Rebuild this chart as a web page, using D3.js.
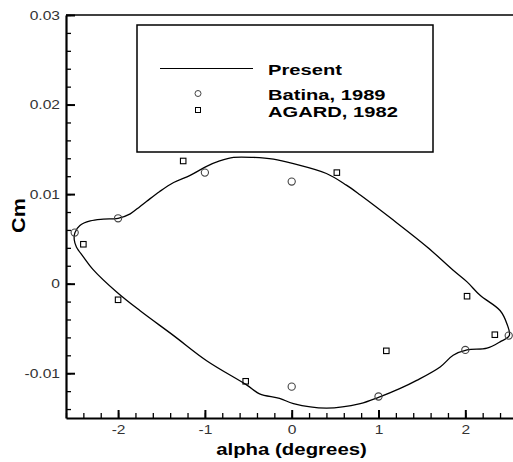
<!DOCTYPE html>
<html>
<head>
<meta charset="utf-8">
<script src="https://cdn.jsdelivr.net/npm/d3@7"></script>
<style>
  html, body { margin: 0; padding: 0; background: #fff; }
  svg { display: block; font-family: "Liberation Sans", Arial, sans-serif; }
</style>
</head>
<body>
<svg id="chart" width="513" height="462"></svg>
<script>
// ---- data ----
const xTicks = [-2, -1, 0, 1, 2];
const xTickLabels = ["-2", "-1", "0", "1", "2"];
const yTicks = [-0.01, 0, 0.01, 0.02, 0.03];
const yTickLabels = ["-0.01", "0", "0.01", "0.02", "0.03"];

// "Present" closed loop (alpha, Cm)
const presentAlpha = [-2.505, -2.497, -2.44, -2.32, -2.17, -2.0, -1.86, -1.75, -1.67, -1.52, -1.36, -1.17, -0.98, -0.83, -0.67, -0.44, -0.21, 0.02, 0.40, 0.63, 0.79, 1.17, 1.56, 1.86, 2.02, 2.17, 2.40, 2.48, 2.507,
                      2.40, 2.25, 2.02, 1.86, 1.71, 1.44, 1.25, 1.0, 0.79, 0.40, 0.02, -0.14, -0.37, -0.52, -0.98, -1.36, -1.75, -2.02, -2.29, -2.40, -2.48];
const presentCm = [0.0049, 0.0057, 0.0065, 0.0070, 0.0072, 0.0073, 0.0078, 0.0086, 0.0092, 0.0103, 0.0113, 0.0121, 0.0131, 0.0137, 0.0141, 0.0141, 0.0139, 0.0134, 0.0123, 0.0110, 0.0099, 0.0071, 0.0041, 0.0015, 0.0002, -0.0013, -0.0030, -0.0045, -0.0058,
                   -0.0065, -0.0072, -0.0074, -0.0080, -0.0093, -0.0108, -0.0117, -0.0127, -0.0134, -0.0139, -0.0134, -0.0128, -0.0123, -0.0113, -0.0086, -0.0058, -0.0030, -0.0009, 0.0016, 0.0030, 0.0041];

// Batina, 1989
const batinaAlpha = [-2.5, -2.0, -1.0, 0.0, 0.0, 1.0, 2.0, 2.5];
const batinaCm = [0.0057, 0.0073, 0.0124, 0.0114, -0.0115, -0.0126, -0.0074, -0.0058];

// AGARD, 1982
const agardAlpha = [-2.40, -1.25, 0.52, -2.0, -0.53, 1.09, 2.02, 2.34];
const agardCm = [0.0044, 0.0137, 0.0124, -0.0018, -0.0109, -0.0075, -0.0014, -0.0057];

const legendLabels = ["Present", "Batina, 1989", "AGARD, 1982"];

// ---- chart ----
const svg = d3.select("#chart");
const pLeft = 66, pRight = 517.4, pTop = 15, pBottom = 418;
const x = d3.scaleLinear().domain([-2.6, 2.6]).range([pLeft, pRight]);
const y = d3.scaleLinear().domain([-0.015, 0.03]).range([pBottom, pTop]);
const SX = 1.2; // horizontal glyph stretch

// frame top/right lines
svg.append("line").attr("x1", pLeft).attr("x2", pRight).attr("y1", pTop).attr("y2", pTop)
  .attr("stroke", "#000").attr("stroke-width", 1.5);
svg.append("line").attr("x1", pRight).attr("x2", pRight).attr("y1", pTop).attr("y2", pBottom)
  .attr("stroke", "#000").attr("stroke-width", 1.5);

// minor ticks
const xMinor = d3.range(-13, 14).map(i => i * 0.2);
const yMinor = d3.range(-7, 16).map(i => i * 0.002);
svg.append("g").attr("transform", `translate(0,${pBottom})`)
  .call(d3.axisBottom(x).tickValues(xMinor).tickSize(-5).tickFormat(""))
  .call(g => g.select(".domain").remove())
  .call(g => g.selectAll("line").attr("stroke", "#000").attr("stroke-width", 1.3));
svg.append("g").attr("transform", `translate(${pLeft},0)`)
  .call(d3.axisLeft(y).tickValues(yMinor).tickSize(-5).tickFormat(""))
  .call(g => g.select(".domain").remove())
  .call(g => g.selectAll("line").attr("stroke", "#000").attr("stroke-width", 1.3));

// major axes
const xAxis = svg.append("g").attr("transform", `translate(0,${pBottom})`)
  .call(d3.axisBottom(x).tickValues(xTicks).tickSize(-8).tickSizeOuter(0).tickPadding(7)
    .tickFormat((d, i) => xTickLabels[i]));
const yAxis = svg.append("g").attr("transform", `translate(${pLeft},0)`)
  .call(d3.axisLeft(y).tickValues(yTicks).tickSize(-9).tickSizeOuter(0).tickPadding(5)
    .tickFormat((d, i) => yTickLabels[i]));
[xAxis, yAxis].forEach(g => {
  g.select(".domain").attr("stroke", "#000").attr("stroke-width", 2.2);
  g.selectAll(".tick line").attr("stroke", "#000").attr("stroke-width", 2);
  g.selectAll(".tick text").attr("font-size", 13).attr("fill", "#333")
    .attr("font-family", "Liberation Sans, Arial, sans-serif")
    .attr("transform", `scale(${SX},1)`);
});

// axis titles
svg.append("text").attr("transform", `translate(291.5,455) scale(${SX},1)`)
  .attr("text-anchor", "middle").attr("font-size", 17).attr("font-weight", "bold")
  .text("alpha (degrees)");
svg.append("text").attr("transform", `translate(25,215.5) rotate(-90) scale(${SX},1)`)
  .attr("text-anchor", "middle").attr("font-size", 18).attr("font-weight", "bold")
  .text("Cm");

// present curve
const presentPts = presentAlpha.map((a, i) => [a, presentCm[i]]);
const line = d3.line().x(d => x(d[0])).y(d => y(d[1])).curve(d3.curveCatmullRomClosed.alpha(0.5));
svg.append("path").attr("d", line(presentPts)).attr("fill", "none")
  .attr("stroke", "#000").attr("stroke-width", 1.3);

// Batina circles
svg.append("g").selectAll("circle").data(batinaAlpha.map((a, i) => [a, batinaCm[i]])).join("circle")
  .attr("cx", d => x(d[0])).attr("cy", d => y(d[1])).attr("r", 3.6)
  .attr("fill", "none").attr("stroke", "#444").attr("stroke-width", 1.1);

// AGARD squares
const sq = 5.5;
svg.append("g").selectAll("rect").data(agardAlpha.map((a, i) => [a, agardCm[i]])).join("rect")
  .attr("x", d => x(d[0]) - sq / 2).attr("y", d => y(d[1]) - sq / 2)
  .attr("width", sq).attr("height", sq)
  .attr("fill", "none").attr("stroke", "#000").attr("stroke-width", 1.1);

// legend
const LSX = 1.3;
const lg = svg.append("g");
lg.append("rect").attr("x", 137).attr("y", 25).attr("width", 296).attr("height", 127)
  .attr("fill", "#fff").attr("stroke", "#000").attr("stroke-width", 1.5);
lg.append("line").attr("x1", 160).attr("x2", 253).attr("y1", 68.5).attr("y2", 68.5)
  .attr("stroke", "#000").attr("stroke-width", 1.2);
lg.append("circle").attr("cx", 198).attr("cy", 93.5).attr("r", 3)
  .attr("fill", "none").attr("stroke", "#444").attr("stroke-width", 1);
lg.append("rect").attr("x", 198 - 2.5).attr("y", 110 - 2.5).attr("width", 5).attr("height", 5)
  .attr("fill", "none").attr("stroke", "#000").attr("stroke-width", 1);
const legY = [74.5, 99.5, 117];
lg.selectAll("text.leg").data(legendLabels).join("text").attr("class", "leg")
  .attr("transform", (d, i) => `translate(268,${legY[i]}) scale(${LSX},1)`)
  .attr("font-size", 15.5).attr("font-weight", "bold").attr("fill", "#000")
  .text(d => d);
</script>
</body>
</html>
